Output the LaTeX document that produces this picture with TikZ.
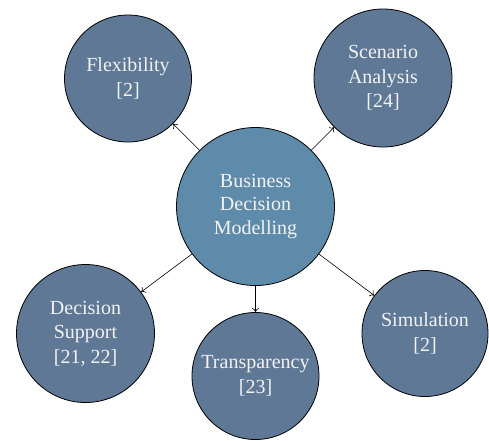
\documentclass[tikz,border=0pt]{standalone}
\usepackage{fontspec}
\setmainfont{Liberation Serif}
\usetikzlibrary{arrows.meta}
\definecolor{outerfill}{HTML}{5E7896}
\definecolor{centerfill}{HTML}{5F8BAA}
\definecolor{labeltext}{HTML}{F2F2F2}
\begin{document}
\begin{tikzpicture}[x=1pt,y=-1pt,
  bubble/.style={circle, draw=black, line width=0.8pt, fill=outerfill, text=labeltext,
    align=center, inner sep=0pt, font=\fontsize{20}{24.5}\selectfont},
  link/.style={-{To[length=4pt,width=7pt]}, line width=0.6pt}]
\useasboundingbox (0,0) rectangle (489,440);
\clip (0,0) rectangle (489,440);
\node[bubble, fill=centerfill, minimum size=158pt, font=\fontsize{20}{23.5}\selectfont] (c) at (255.5,206.5) {Business\\Decision\\Modelling};
\node[bubble, minimum size=127pt] (f) at (128,78.5) {Flexibility\\{[2]}};
\node[bubble, minimum size=138pt] (s) at (383,78) {Scenario\\Analysis\\{[24]}};
\node[bubble, minimum size=138pt] (d) at (85.5,333.5) {Decision\\Support\\{[21, 22]}};
\node[bubble, minimum size=127pt] (t) at (255.5,376) {Transparency\\{[23]}};
\node[bubble, minimum size=126pt] (m) at (425,333.5) {Simulation\\{[2]}};
\draw[link] (c) -- (f);
\draw[link] (c) -- (s);
\draw[link] (c) -- (d);
\draw[link] (c) -- (t);
\draw[link] (c) -- (m);
\end{tikzpicture}
\end{document}
